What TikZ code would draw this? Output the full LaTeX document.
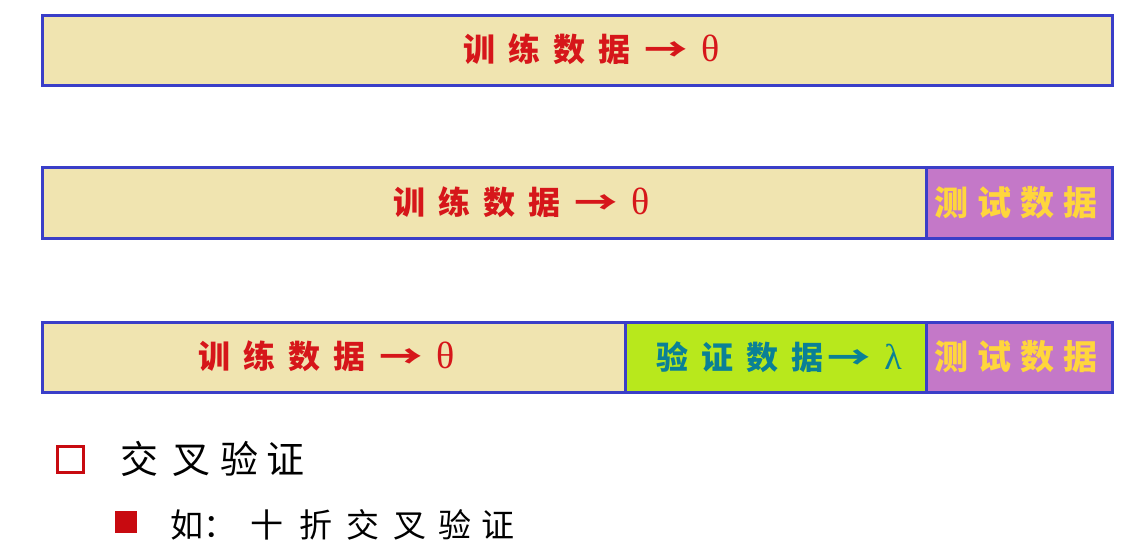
\documentclass[tikz,border=0pt]{standalone}
\usepackage{fontspec}
\usepackage{graphicx}
\setmainfont{Noto Sans CJK SC}
\newfontfamily\greekf{Liberation Serif}
\definecolor{barblue}{RGB}{58,62,200}
\definecolor{beige}{RGB}{240,228,176}
\definecolor{limeg}{RGB}{184,232,28}
\definecolor{purp}{RGB}{196,120,200}
\definecolor{redt}{RGB}{214,22,26}
\definecolor{yelt}{RGB}{255,214,60}
\definecolor{tealt}{RGB}{10,128,150}
\definecolor{bulred}{RGB}{200,10,16}
\newcommand\gapx{\hspace{13pt}}
\newcommand\arr{\scalebox{1.35}[1]{→}}
\newcommand\thet{{\greekf\mdseries\fontsize{38}{40}\selectfont θ}}
\newcommand\lamb{{\greekf\mdseries\fontsize{36}{38}\selectfont λ}}
\begin{document}
\begin{tikzpicture}[x=1pt,y=-1pt,
  seg/.style={draw=barblue, line width=2.6pt, anchor=north west, inner sep=0pt},
  lbl/.style={font=\fontsize{32}{34}\selectfont\bfseries, inner sep=0pt, anchor=west},
  bul/.style={font=\fontsize{38}{40}\selectfont, inner sep=0pt, anchor=west, text=black}]
\useasboundingbox[fill=white] (0,0) rectangle (1147,550);
% bar 1
\node[seg, fill=beige, minimum width=1070pt, minimum height=70pt] (b1) at (41,14) {};
% bar 2
\node[seg, fill=beige, minimum width=884pt, minimum height=71pt] (b2a) at (41,166) {};
\node[seg, fill=purp, minimum width=186pt, minimum height=71pt] (b2b) at (925,166) {};
% bar 3
\node[seg, fill=beige, minimum width=583pt, minimum height=70pt] (b3a) at (41,321) {};
\node[seg, fill=limeg, minimum width=301pt, minimum height=70pt] (b3b) at (624,321) {};
\node[seg, fill=purp, minimum width=186pt, minimum height=70pt] (b3c) at (925,321) {};
% labels
\node[lbl, text=redt] (t1) at (463,49) {训\gapx 练\gapx 数\gapx 据\hspace{14pt}\arr\hspace{14pt}\thet};
\node[lbl, text=redt] (t2) at (393,202) {训\gapx 练\gapx 数\gapx 据\hspace{14pt}\arr\hspace{14pt}\thet};
\node[lbl, text=redt] (t3) at (198,356) {训\gapx 练\gapx 数\gapx 据\hspace{14pt}\arr\hspace{14pt}\thet};
\node[lbl, text=yelt, font=\fontsize{34}{36}\selectfont\bfseries] (t4) at (934,203) {测\hspace{9pt}试\hspace{9pt}数\hspace{9pt}据};
\node[lbl, text=yelt, font=\fontsize{34}{36}\selectfont\bfseries] (t5) at (934,357) {测\hspace{9pt}试\hspace{9pt}数\hspace{9pt}据};
\node[lbl, text=tealt] (t6) at (656,357) {验\gapx 证\gapx 数\gapx 据\hspace{4pt}\arr\hspace{14pt}\lamb};
% bullets
\node[draw=bulred, line width=3pt, minimum size=26pt, inner sep=0pt, anchor=north west] (sq1) at (56,445) {};
\node[bul] (c1) at (120,459) {交\hspace{14pt}叉\hspace{10pt}验\hspace{8pt}证};
\node[fill=bulred, minimum size=22pt, inner sep=0pt, anchor=north west] (sq2) at (115,511) {};
\node[bul, font=\fontsize{33}{35}\selectfont] (c2) at (170,525) {如：\hspace{14pt}十\hspace{16pt}折\hspace{14pt}交\hspace{14pt}叉\hspace{12pt}验\hspace{10pt}证};
\end{tikzpicture}
\end{document}
